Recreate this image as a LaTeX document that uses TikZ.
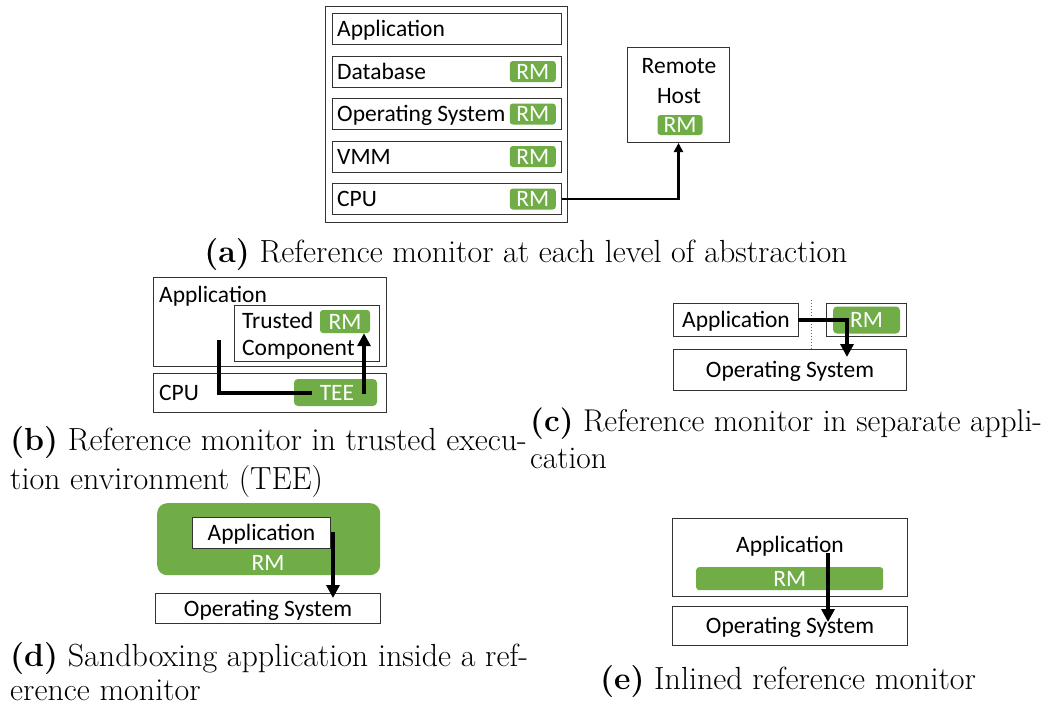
\documentclass[tikz,border=0pt]{standalone}
\usepackage{fontspec}
\newfontfamily\carl{Carlito}
\usetikzlibrary{arrows.meta}
\definecolor{rmgreen}{HTML}{70AD47}
\begin{document}
\begin{tikzpicture}[x=1pt,y=-1pt,
  box/.style={draw=black!80, line width=1pt, fill=white, inner sep=0pt, anchor=north west},
  lbl/.style={font=\carl\fontsize{23.5}{27}\selectfont, inner sep=0pt, anchor=base},
  lblw/.style={lbl, anchor=base west},
  badge/.style={fill=rmgreen, rounded corners=3pt, text=white, font=\carl\fontsize{23.5}{27}\selectfont, inner sep=0pt},
  captxt/.style={font=\fontsize{32}{38}\selectfont, inner sep=0pt, anchor=base west},
  conn/.style={line width=4pt, -{Triangle[length=13pt,width=13pt]}},
  connline/.style={line width=4pt},
  conna/.style={line width=2.5pt, -{Triangle[length=9pt,width=9pt]}},
]
\useasboundingbox (0,0) rectangle (1050,707);

% ---------- (a) ----------
\node[box, minimum width=242pt, minimum height=216pt] (outerA) at (325,6) {};
\node[box, minimum width=229pt, minimum height=31pt] (appA) at (332,13) {};
\node[box, minimum width=229pt, minimum height=31pt] (dbA) at (332,55.5) {};
\node[box, minimum width=229pt, minimum height=31pt] (osA) at (332,98) {};
\node[box, minimum width=229pt, minimum height=31pt] (vmmA) at (332,140.5) {};
\node[box, minimum width=229pt, minimum height=31pt] (cpuA) at (332,183) {};
\node[lblw] (appAt) at ([xshift=5pt,yshift=-7.5pt]appA.west) {Application};
\node[lblw] (dbAt) at ([xshift=5pt,yshift=-7.5pt]dbA.west) {Database};
\node[lblw] (osAt) at ([xshift=5pt,yshift=-7.5pt]osA.west) {Operating System};
\node[lblw] (vmmAt) at ([xshift=5pt,yshift=-7.5pt]vmmA.west) {VMM};
\node[lblw] (cpuAt) at ([xshift=5pt,yshift=-7.5pt]cpuA.west) {CPU};
\node[badge, anchor=east, minimum width=46pt, minimum height=21pt] (rm1) at ([xshift=-6pt]dbA.east) {RM};
\node[badge, anchor=east, minimum width=46pt, minimum height=21pt] (rm2) at ([xshift=-6pt]osA.east) {RM};
\node[badge, anchor=east, minimum width=46pt, minimum height=21pt] (rm3) at ([xshift=-6pt]vmmA.east) {RM};
\node[badge, anchor=east, minimum width=46pt, minimum height=21pt] (rm4) at ([xshift=-6pt]cpuA.east) {RM};
\node[box, minimum width=102pt, minimum height=95pt] (remote) at (627,47) {};
\node[lbl] (remt) at (679,73.5) {Remote};
\node[lbl] (hostt) at (679,103.5) {Host};
\node[badge, minimum width=45pt, minimum height=20pt] (rm5) at (680,125) {RM};
\draw[conna] (cpuA.east) -| (remote.south);
\node[captxt, anchor=base] (capA) at (526,262) {\textbf{(a)} Reference monitor at each level of abstraction};

% ---------- (b) ----------
\node[box, minimum width=233pt, minimum height=89pt] (appB) at (153,277) {};
\node[lblw] (appBt) at (159,302.5) {Application};
\node[box, minimum width=145pt, minimum height=56pt] (tcB) at (234,305) {};
\node[lblw] (trt) at (242,328.5) {Trusted};
\node[lblw] (comt) at (242,355.5) {Component};
\node[badge, minimum width=50pt, minimum height=23pt] (rmB) at (345,321.5) {RM};
\node[box, minimum width=233pt, minimum height=39pt] (cpuB) at (153,373) {};
\node[lblw] (cpuBt) at (159,400.5) {CPU};
\node[badge, minimum width=83pt, minimum height=27pt, rounded corners=4pt] (tee) at (335.5,392.5) {};
\coordinate (bstart) at (219,340);
\coordinate (bend) at (312,393);
\draw[connline] (bstart) |- (bend);
\node[lbl, text=white] (teet) at (337,400) {TEE};
\coordinate (bup) at (364,394);
\draw[conn] (bup) -- (bup |- rmB.south);
\node[captxt] (capB1) at (10,450) {\textbf{(b)} Reference monitor in trusted execu-};
\node[captxt] (capB2) at (10,489) {tion environment (TEE)};

% ---------- (c) ----------
\node[box, minimum width=125pt, minimum height=33pt] (appC) at (673,303) {};
\node[lbl] (appCt) at ([yshift=-7.5pt]appC.center) {Application};
\draw[black!60, line width=1pt, dotted] (811,300) coordinate (dtop) -- (811,349) coordinate (dbot);
\node[box, minimum width=80pt, minimum height=33pt] (rmboxC) at (826,303) {};
\node[badge, minimum width=67pt, minimum height=27pt, rounded corners=4pt] (rmC) at (rmboxC.center) {RM};
\node[box, minimum width=233pt, minimum height=41pt] (osC) at (673,349) {};
\node[lbl] (osCt) at ([yshift=-7.5pt]osC.center) {Operating System};
\coordinate (cend) at (847,357);
\draw[conn] ([xshift=-1pt]appC.east) -| (cend);
\node[captxt, font=\fontsize{31.5}{38}\selectfont] (capC1) at (530,431) {\textbf{(c)} Reference monitor in separate appli-};
\node[captxt, font=\fontsize{31.5}{38}\selectfont] (capC2) at (530,468) {cation};

% ---------- (d) ----------
\node[fill=rmgreen, rounded corners=10pt, minimum width=223pt, minimum height=72pt, inner sep=0pt, anchor=north west] (sandD) at (157,503) {};
\node[box, minimum width=138pt, minimum height=31pt] (appD) at (192,517) {};
\node[lbl] (appDt) at ([yshift=-7.5pt]appD.center) {Application};
\node[lbl, text=white] (rmDt) at (268,570.5) {RM};
\node[box, minimum width=225pt, minimum height=30pt] (osD) at (155,593) {};
\node[lbl] (osDt) at ([yshift=-7.5pt]osD.center) {Operating System};
\coordinate (dstart) at (333,532);
\coordinate (dend) at (333,598);
\draw[conn] (dstart) -- (dend);
\node[captxt] (capD1) at (10,666) {\textbf{(d)} Sandboxing application inside a ref-};
\node[captxt] (capD2) at (10,700) {erence monitor};

% ---------- (e) ----------
\node[box, minimum width=235pt, minimum height=78pt] (appE) at (672,518) {};
\node[lbl] (appEt) at (790,552.5) {Application};
\node[badge, minimum width=187pt, minimum height=23pt, anchor=north west] (rmE) at (696,567) {RM};
\node[box, minimum width=235pt, minimum height=39pt] (osE) at (672,606) {};
\node[lbl] (osEt) at ([yshift=-7.5pt]osE.center) {Operating System};
\coordinate (estart) at (828,553);
\coordinate (eend) at (828,622);
\draw[conn] (estart) -- (eend);
\node[captxt, anchor=base] (capE) at (788,689) {\textbf{(e)} Inlined reference monitor};
\end{tikzpicture}
\end{document}
